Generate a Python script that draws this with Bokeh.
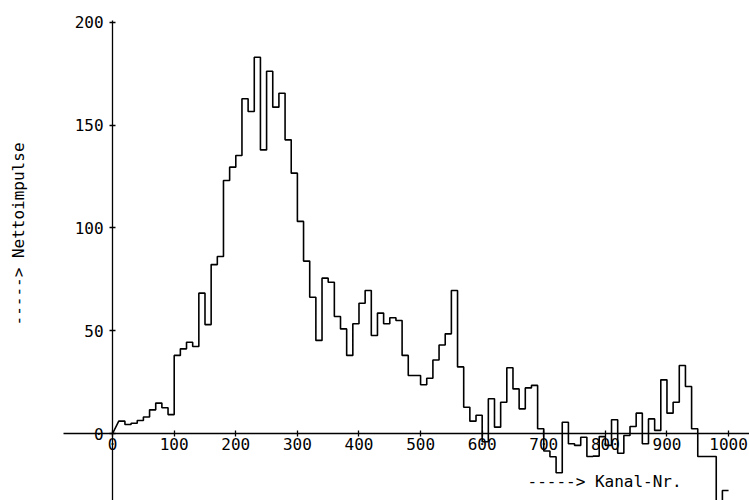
import numpy as np
from bokeh.plotting import figure
from bokeh.models import Range1d, LinearAxis, FixedTicker, Label
from bokeh.embed import file_html
from bokeh.resources import INLINE

# ---- data -------------------------------------------------------------
bin_width = 10
channels = list(range(10, 1000, 10))          # left edge of each channel bin
counts = [
    6.0, 4.4, 5.0, 6.3, 8.0, 11.5, 14.8, 12.5, 9.2,            # 10-90
    38.0, 41.2, 44.4, 42.3, 68.3, 53.0, 82.2, 86.1, 123.1, 129.6,  # 100-190
    135.3, 162.9, 156.7, 183.1, 138.0, 176.3, 158.8, 165.6, 142.9, 126.7,  # 200-290
    103.2, 83.9, 66.3, 45.3, 75.6, 73.6, 56.9, 50.9, 38.0, 53.4,  # 300-390
    63.4, 69.6, 47.7, 58.6, 53.4, 56.3, 55.0, 38.0, 28.2, 28.2,   # 400-490
    23.7, 26.9, 35.8, 43.1, 48.5, 69.6, 32.4, 12.8, 6.0, 8.9,     # 500-590
    -4.0, 16.9, 3.1, 15.2, 32.0, 21.7, 12.0, 22.2, 23.4, 2.3,     # 600-690
    -8.5, -11.3, -19.1, 5.5, -5.0, -5.8, -1.8, -11.2, -11.0, -1.5,  # 700-790
    -5.8, 6.7, -9.6, -1.0, 3.4, 9.9, -5.0, 7.1, 1.5, 26.1,        # 800-890
    9.9, 15.2, 33.1, 22.9, 2.3, -11.2, -11.2, -11.2, -40.0, -27.7,  # 900-990
]
assert len(channels) == len(counts)

x_ticks = [0, 100, 200, 300, 400, 500, 600, 700, 800, 900, 1000]
y_ticks = [0, 50, 100, 150, 200]
x_title = "-----> Kanal-Nr."
y_title = "-----> Nettoimpulse"

# ---- step path built from the data ------------------------------------
xs, ys = [0.0], [0.0]
for c, v in zip(channels, counts):
    xs += [c, c + bin_width]
    ys += [v, v]

FONT = "DejaVu Sans Mono"

p = figure(width=749, height=500, output_backend="svg", toolbar_location=None,
           x_axis_type=None, y_axis_type=None,
           x_range=Range1d(-182, 1034), y_range=Range1d(-32.6, 210.7),
           min_border=0, min_border_left=0, min_border_right=0,
           min_border_top=0, min_border_bottom=0)
p.outline_line_color = None
p.xgrid.visible = False
p.ygrid.visible = False
p.background_fill_color = "white"
p.border_fill_color = "white"

p.line(xs, ys, line_color="black", line_width=1.6)

xaxis = LinearAxis(fixed_location=0, ticker=FixedTicker(ticks=x_ticks),
                   bounds=(-80, 1040))
yaxis = LinearAxis(fixed_location=0, ticker=FixedTicker(ticks=y_ticks),
                   bounds=(-40, 201))
for ax in (xaxis, yaxis):
    ax.axis_line_color = "black"
    ax.axis_line_width = 1.3
    ax.major_tick_line_color = "black"
    ax.major_tick_line_width = 1.3
    ax.major_tick_in = 3
    ax.major_tick_out = 3
    ax.minor_tick_line_color = None
    ax.major_label_text_font = FONT
    ax.major_label_text_font_size = "16px"
    ax.major_label_text_color = "black"
xaxis.major_label_standoff = 1
yaxis.major_label_standoff = 6
p.add_layout(xaxis, "below")
p.add_layout(yaxis, "left")

p.add_layout(Label(x=527, y=10, x_units="screen", y_units="screen",
                   text=x_title, text_font=FONT, text_font_size="16px",
                   text_color="black", text_baseline="bottom", text_align="left"))
p.add_layout(Label(x=18, y=175, x_units="screen", y_units="screen",
                   text=y_title, text_font=FONT, text_font_size="16px",
                   angle=np.pi / 2, text_color="black",
                   text_baseline="middle", text_align="left"))

open("out.html", "w").write(file_html(p, INLINE))
